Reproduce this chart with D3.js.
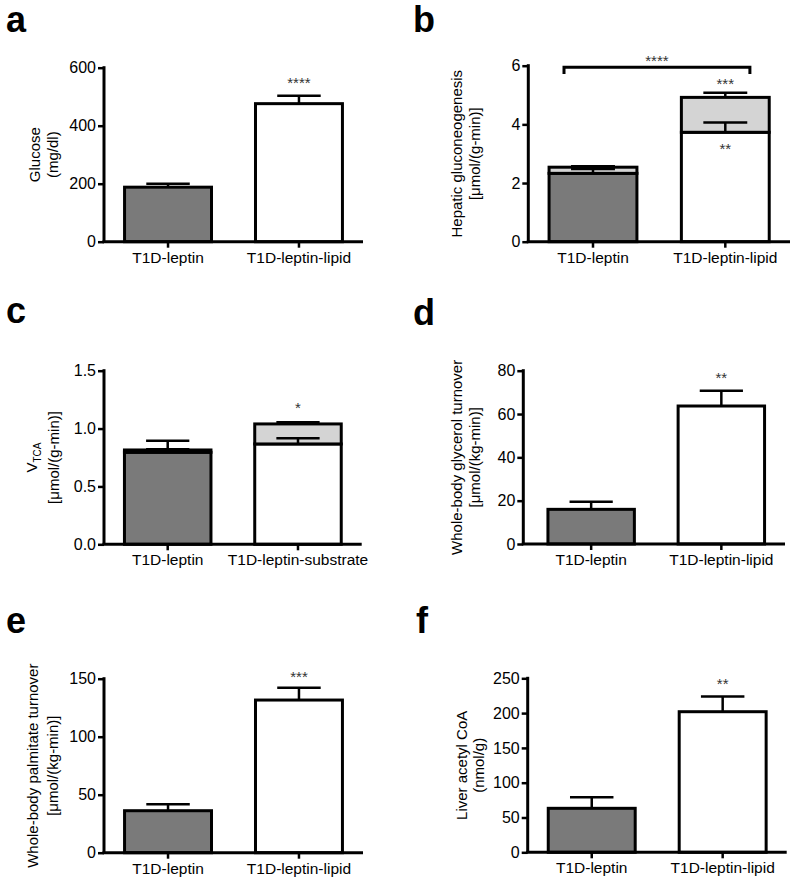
<!DOCTYPE html>
<html><head><meta charset="utf-8">
<script src="https://cdn.jsdelivr.net/npm/d3@7"></script>
<style>
body{margin:0;background:#fff}
text{font-family:"Liberation Sans",Arial,Helvetica,sans-serif}
</style>
</head><body>
<svg id="chart" width="800" height="883"></svg>
<script>
// ---------- data ----------
const groups = ["T1D-leptin", "T1D-leptin-lipid"];
const groupsC = ["T1D-leptin", "T1D-leptin-substrate"];

const glucose = [188, 476];
const glucoseSem = [12, 27];

const gngLower = [2.33, 3.73];
const gngLowerSem = [0.15, 0.33];
const gngTotal = [2.54, 4.92];
const gngTotalSem = [0.03, 0.16];

const vtcaLower = [0.795, 0.867];
const vtcaLowerSem = [0.10, 0.05];
const vtcaTotal = [0.815, 1.04];
const vtcaTotalSem = [0.006, 0.014];

const glycerol = [16.0, 63.7];
const glycerolSem = [3.5, 7.1];

const palmitate = [36.2, 131.6];
const palmitateSem = [5.5, 10.6];

const acetylCoA = [63.2, 202];
const acetylCoASem = [15.8, 22];

const ticksA = [0, 200, 400, 600];
const ticksB = [0, 2, 4, 6];
const ticksC = [0, 0.5, 1.0, 1.5];
const ticksD = [0, 20, 40, 60, 80];
const ticksE = [0, 50, 100, 150];
const ticksF = [0, 50, 100, 150, 200, 250];

// ---------- style ----------
const DARK = "#7a7a7a", LIGHT = "#d4d4d4", INK = "#000";
const svg = d3.select("#chart");

function panel(cfg) {
  const g = svg.append("g");
  const y = d3.scaleLinear().domain([0, d3.max(cfg.ticks)]).range([cfg.yZero, cfg.yTop]);
  const x = d3.scaleBand().domain(cfg.cats).range([cfg.bandL || cfg.x0, cfg.x1])
    .paddingInner(0.336).paddingOuter(0.157);
  const bw = x.bandwidth();

  g.append("text").attr("x", cfg.lx).attr("y", cfg.ly).text(cfg.letter)
    .attr("font-size", 36).attr("font-weight", "bold").attr("fill", INK);

  cfg.cats.forEach((c, i) => {
    const lo = cfg.lower[i];
    g.append("rect").attr("x", x(c)).attr("width", bw)
      .attr("y", y(lo)).attr("height", y(0) - y(lo))
      .attr("fill", i === 0 ? DARK : "#fff").attr("stroke", INK).attr("stroke-width", 3);
    if (cfg.total) {
      const t = cfg.total[i];
      g.append("rect").attr("x", x(c)).attr("width", bw)
        .attr("y", y(t)).attr("height", y(lo) - y(t))
        .attr("fill", LIGHT).attr("stroke", INK).attr("stroke-width", 3);
    }
  });
  function err(c, v, s) {
    const cx = x(c) + bw / 2;
    g.append("line").attr("x1", cx).attr("x2", cx).attr("y1", y(v)).attr("y2", y(v + s))
      .attr("stroke", INK).attr("stroke-width", 2.5);
    g.append("line").attr("x1", cx - bw / 4).attr("x2", cx + bw / 4).attr("y1", y(v + s)).attr("y2", y(v + s))
      .attr("stroke", INK).attr("stroke-width", 2.5);
  }
  cfg.cats.forEach((c, i) => {
    err(c, cfg.lower[i], cfg.lowerSem[i]);
    if (cfg.total) err(c, cfg.total[i], cfg.totalSem[i]);
  });

  const ya = g.append("g").attr("transform", `translate(${cfg.x0},0)`)
    .call(d3.axisLeft(y).tickValues(cfg.ticks).tickSize(6).tickSizeOuter(0).tickPadding(2)
      .tickFormat(cfg.fmt || d3.format("d")));
  ya.select(".domain").attr("stroke-width", 3).attr("d", `M0,${cfg.yZero}V${cfg.yTop - 1.5}`);
  ya.selectAll(".tick line").attr("stroke-width", 2.5);
  ya.selectAll(".tick text").attr("font-size", 16).attr("fill", "#000")
    .style("font-family", '"Liberation Sans",Arial,sans-serif');

  const xa = g.append("g").attr("transform", `translate(0,${cfg.yZero})`)
    .call(d3.axisBottom(x).tickSize(6).tickSizeOuter(0).tickPadding(4));
  xa.select(".domain").attr("stroke-width", 3).attr("d", `M${cfg.x0 - 1.5},0H${cfg.x1}`);
  xa.selectAll(".tick line").attr("stroke-width", 2.5);
  xa.selectAll(".tick text").attr("font-size", 15.5).attr("fill", "#000")
    .style("font-family", '"Liberation Sans",Arial,sans-serif');

  const ymid = (cfg.yZero + cfg.yTop) / 2;
  cfg.title.forEach((line, k) => {
    const t = g.append("text")
      .attr("transform", `translate(${cfg.titleX[k]},${ymid}) rotate(-90)`)
      .attr("text-anchor", "middle").attr("dy", "0.35em")
      .attr("font-size", 15).attr("fill", "#000");
    if (Array.isArray(line)) {
      t.append("tspan").text(line[0]);
      t.append("tspan").text(line[1]).attr("font-size", 10).attr("dy", "0.35em");
    } else t.text(line);
  });

  (cfg.stars || []).forEach(s => {
    const i = cfg.cats.indexOf(s.cat);
    let cy;
    if (s.where === "top") {
      const v = cfg.total ? cfg.total[i] + cfg.totalSem[i] : cfg.lower[i] + cfg.lowerSem[i];
      cy = y(v) - (s.gap || 15);
    } else {
      cy = y(cfg.lower[i]) + 13.5;
    }
    g.append("text").attr("x", x(s.cat) + bw / 2).attr("y", cy + 8.5)
      .attr("text-anchor", "middle").attr("font-size", 15).attr("fill", "#333").text(s.text);
  });
  return { g, x, y, bw };
}

panel({ letter: "a", lx: 6, ly: 32, x0: 104, x1: 363, yTop: 67.7, yZero: 241.7,
  ticks: ticksA, cats: groups, lower: glucose, lowerSem: glucoseSem,
  title: ["Glucose", "(mg/dl)"], titleX: [34.5, 52.5],
  stars: [{ cat: groups[1], text: "****", where: "top", gap: 16 }] });

const pb = panel({ letter: "b", lx: 413, ly: 32, x0: 528.3, x1: 790, yTop: 65.7, yZero: 241.7,
  ticks: ticksB, cats: groups, lower: gngLower, lowerSem: gngLowerSem, total: gngTotal, totalSem: gngTotalSem,
  title: ["Hepatic gluconeogenesis", "[\u03bcmol/(g-min)]"], titleX: [456.7, 475],
  stars: [{ cat: groups[1], text: "***", where: "top", gap: 12 },
          { cat: groups[1], text: "**", where: "inside" }] });
{
  const xl = pb.x(groups[0]) + pb.bw * 0.17, xr = pb.x(groups[1]) + pb.bw * 0.78;
  const yb = pb.y(5.95), ye = pb.y(5.72);
  pb.g.append("path").attr("d", `M${xl},${ye}V${yb}H${xr}V${ye}`)
    .attr("fill", "none").attr("stroke", INK).attr("stroke-width", 3);
  pb.g.append("text").attr("x", (xl + xr) / 2).attr("y", yb - 10 + 8.5)
    .attr("text-anchor", "middle").attr("font-size", 15).attr("fill", "#333").text("****");
}

panel({ letter: "c", lx: 6, ly: 323, x0: 104, x1: 361.7, yTop: 370.7, yZero: 544.3,
  ticks: ticksC, fmt: d3.format(".1f"), cats: groupsC,
  lower: vtcaLower, lowerSem: vtcaLowerSem, total: vtcaTotal, totalSem: vtcaTotalSem,
  title: [["V", "TCA"], "[\u03bcmol/(g-min)]"], titleX: [32, 53.5],
  stars: [{ cat: groupsC[1], text: "*", where: "top", gap: 18 }] });

panel({ letter: "d", lx: 413, ly: 325, x0: 523.3, bandL: 527.5, x1: 785, yTop: 370.7, yZero: 544,
  ticks: ticksD, cats: groups, lower: glycerol, lowerSem: glycerolSem,
  title: ["Whole-body glycerol turnover", "[\u03bcmol/(kg-min)]"], titleX: [456.7, 475],
  stars: [{ cat: groups[1], text: "**", where: "top", gap: 16 }] });

panel({ letter: "e", lx: 6, ly: 633, x0: 104, x1: 363, yTop: 678.7, yZero: 852.7,
  ticks: ticksE, cats: groups, lower: palmitate, lowerSem: palmitateSem,
  title: ["Whole-body palmitate turnover", "[\u03bcmol/(kg-min)]"], titleX: [33, 53],
  stars: [{ cat: groups[1], text: "***", where: "top", gap: 14 }] });

panel({ letter: "f", lx: 416, ly: 633, x0: 527.7, x1: 786.7, yTop: 678.3, yZero: 852.3,
  ticks: ticksF, cats: groups, lower: acetylCoA, lowerSem: acetylCoASem,
  title: ["Liver acetyl CoA", "(nmol/g)"], titleX: [461.7, 478.5],
  stars: [{ cat: groups[1], text: "**", where: "top", gap: 16 }] });
</script>
</body></html>
